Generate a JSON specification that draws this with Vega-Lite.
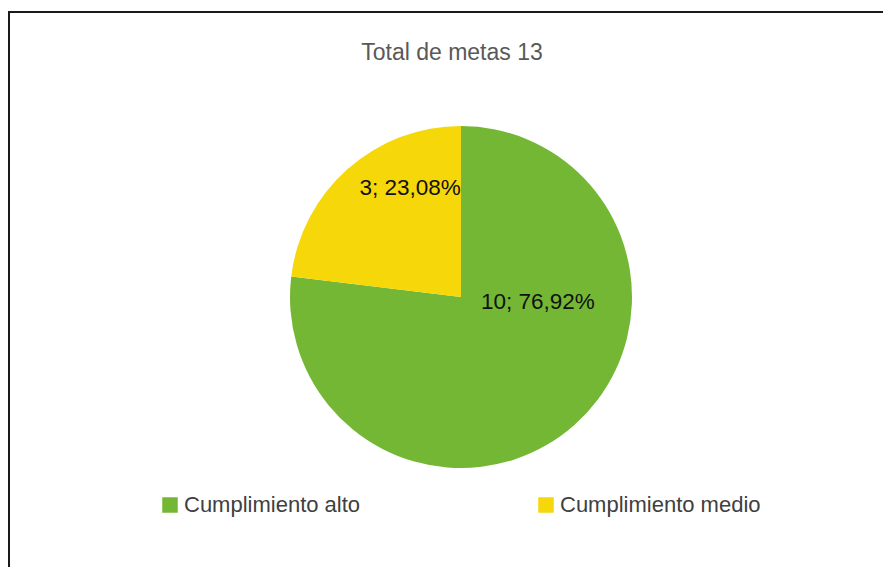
{
  "$schema": "https://vega.github.io/schema/vega-lite/v6.json",
  "autosize": "none",
  "padding": {"left": 9, "top": 12, "right": 0, "bottom": 0},
  "width": 904,
  "height": 570,
  "background": "white",
  "config": {
    "view": {"stroke": null},
    "font": "Liberation Sans"
  },
  "title": {
    "text": "Total de metas 13",
    "fontSize": 23,
    "fontWeight": "normal",
    "color": "#595959",
    "font": "Liberation Sans",
    "anchor": "middle",
    "dx": -9,
    "offset": -54
  },
  "data": {
    "values": [
      {"categoria": "Cumplimiento alto", "metas": 10, "etiqueta": "10; 76,92%", "orden": 1},
      {"categoria": "Cumplimiento medio", "metas": 3, "etiqueta": "3; 23,08%", "orden": 2}
    ]
  },
  "layer": [
    {
      "mark": {"type": "rect", "fill": null, "stroke": "#1a1a1a", "strokeWidth": 2},
      "encoding": {}
    },
    {
      "mark": {"type": "arc", "outerRadius": 171, "stroke": null},
      "encoding": {
        "theta": {"field": "metas", "type": "quantitative", "stack": true},
        "order": {"field": "orden", "type": "quantitative"},
        "color": {
          "field": "categoria",
          "type": "nominal",
          "scale": {"domain": ["Cumplimiento alto", "Cumplimiento medio"], "range": ["#74B734", "#F5D70A"]},
          "legend": {
            "title": null,
            "orient": "none",
            "direction": "horizontal",
            "columns": 2,
            "columnPadding": 174,
            "legendX": 150,
            "legendY": 482,
            "padding": 0,
            "symbolType": "square",
            "symbolSize": 240,
            "symbolStrokeWidth": 0,
            "symbolOpacity": 1,
            "labelFontSize": 22,
            "labelColor": "#404040",
            "labelFont": "Liberation Sans",
            "labelOffset": 3,
            "labelLimit": 400
          }
        }
      }
    },
    {
      "mark": {"type": "text", "radius": 110, "fontSize": 22.5, "color": "#111111", "dx": 22, "dy": -27, "font": "Liberation Sans"},
      "encoding": {
        "theta": {"field": "metas", "type": "quantitative", "stack": true},
        "order": {"field": "orden", "type": "quantitative"},
        "text": {"condition": {"test": "datum.categoria === 'Cumplimiento medio'", "field": "etiqueta"}, "value": ""}
      }
    },
    {
      "mark": {"type": "text", "radius": 110, "fontSize": 22.5, "color": "#111111", "dx": 4, "dy": -77, "font": "Liberation Sans"},
      "encoding": {
        "theta": {"field": "metas", "type": "quantitative", "stack": true},
        "order": {"field": "orden", "type": "quantitative"},
        "text": {"condition": {"test": "datum.categoria === 'Cumplimiento alto'", "field": "etiqueta"}, "value": ""}
      }
    }
  ]
}
